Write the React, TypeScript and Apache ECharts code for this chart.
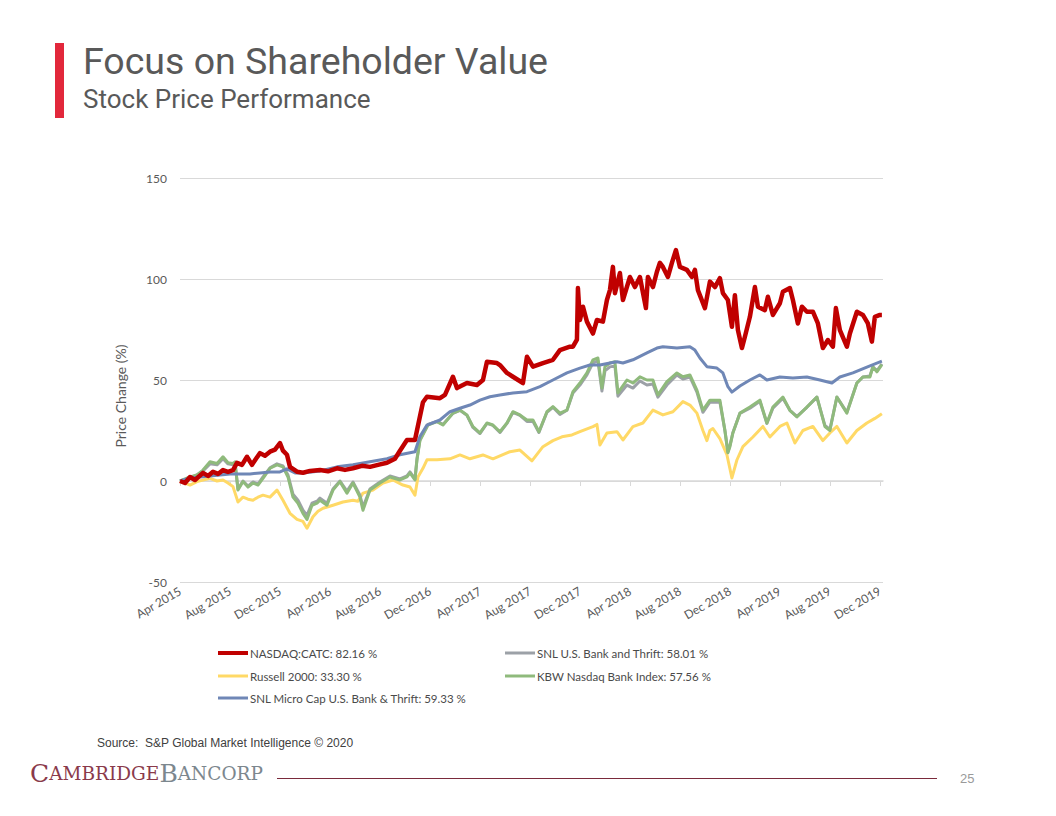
import React, { useEffect, useRef } from "react";
import * as echarts from "echarts";

const TICK_LABELS = [
  "Apr 2015", "Aug 2015", "Dec 2015", "Apr 2016", "Aug 2016", "Dec 2016", "Apr 2017",
  "Aug 2017", "Dec 2017", "Apr 2018", "Aug 2018", "Dec 2018", "Apr 2019", "Aug 2019", "Dec 2019",
];

const SERIES_NAMES = [
  "NASDAQ:CATC: 82.16 %",
  "SNL U.S. Bank and Thrift: 58.01 %",
  "Russell 2000: 33.30 %",
  "KBW Nasdaq Bank Index: 57.56 %",
  "SNL Micro Cap U.S. Bank & Thrift: 59.33 %",
];

// [months since Apr 2015, price change %]
const NASDAQ_CATC: [number, number][] = [
  [0, 0], [0.4, -1], [0.8, 2], [1.2, 0.5], [1.84, 4], [2.24, 2.5], [2.64, 4.6], [3.04, 3.5], [3.44, 5.4], [3.84, 4.5],
  [4.24, 5.4], [4.56, 9], [4.96, 8], [5.36, 12], [5.76, 8], [6.08, 11], [6.4, 13.8], [6.8, 12.5], [7.2, 14.5], [7.6, 15.5],
  [8, 18.8], [8.24, 15], [8.56, 13], [8.8, 7], [9.36, 4.6], [9.84, 4.1], [10.4, 5], [11.2, 5.4], [11.84, 4.8], [12.56, 6.3],
  [13.2, 5.5], [13.84, 6.3], [14.56, 7.5], [15.2, 7], [15.84, 8], [16.56, 9], [17.2, 11], [17.6, 15], [18.16, 20.3], [18.8, 20.3],
  [18.96, 25], [19.44, 39], [19.76, 41.7], [20.8, 41], [21.2, 42.6], [21.84, 51.6], [22.16, 46], [22.96, 48.5], [23.76, 47.5], [24.24, 50],
  [24.56, 59], [25.36, 58.4], [25.6, 57.4], [26.16, 53.5], [26.64, 51.6], [27.44, 48.5], [27.76, 61.5], [28.24, 56.6], [29.04, 58.4], [29.84, 60],
  [30.4, 64.8], [31.2, 66.5], [31.44, 66.5], [31.76, 70], [31.84, 95.5], [32, 79.7], [32.24, 86.3], [32.56, 78.9], [33.04, 73], [33.36, 79.7],
  [33.84, 78.9], [34.16, 89.6], [34.4, 94.5], [34.64, 106], [34.8, 93], [35.2, 103], [35.44, 89.6], [36, 101], [36.4, 96], [36.8, 101],
  [37.28, 85.6], [37.44, 101], [37.84, 96], [38.16, 103.6], [38.4, 108], [38.64, 106], [39.04, 101], [39.36, 108], [39.68, 114.3], [40, 106],
  [40.56, 104.5], [40.96, 101], [41.2, 104.5], [41.44, 94.5], [42, 85.6], [42.4, 98.7], [42.8, 96], [43.2, 100.4], [43.44, 93], [43.84, 89.6],
  [44.16, 76.4], [44.4, 92], [44.64, 74.7], [44.96, 65.8], [45.2, 71.4], [45.6, 81.3], [46, 96], [46.24, 86.3], [46.8, 84.6], [47.04, 91.2],
  [47.44, 82.2], [48, 88], [48.24, 93.7], [48.8, 95.5], [49.04, 89.6], [49.44, 78], [49.76, 86.3], [50.16, 83.8], [50.64, 83.8], [51.04, 78],
  [51.44, 65.8], [51.84, 69.8], [52.24, 66.5], [52.48, 85.6], [52.8, 74.7], [53.36, 66.5], [53.6, 73], [54.16, 83.8], [54.64, 82.2], [55.04, 78],
  [55.36, 69], [55.6, 81.3], [56, 82.2], [56.16, 82.2],
];

const SNL_BANK_THRIFT: [number, number][] = [
  [0, 0], [0.8, 1.5], [1.36, 3], [1.84, 5], [2.4, 8.5], [2.96, 8], [3.44, 11], [3.84, 8.5], [4.24, 8], [4.4, 9],
  [4.64, -4], [5.04, 0], [5.44, -2.5], [5.84, -0.5], [6.24, -1.5], [6.64, 2], [7.2, 6.5], [7.76, 8.5], [8.24, 7.5], [8.64, 3],
  [9.04, -6.5], [9.44, -9.5], [9.84, -14.5], [10.16, -17], [10.56, -11], [10.96, -10], [11.2, -8.5], [11.76, -11], [12.24, -4], [12.8, 0],
  [13.36, -5], [13.84, -0.5], [14.4, -7], [14.64, -13], [15.2, -4], [16, -0.5], [16.8, 2.5], [17.6, 1], [18.16, 2.5], [18.4, 4.5],
  [18.8, 1], [18.96, 11], [19.2, 20.5], [19.84, 28], [20.56, 29.5], [21.04, 28], [21.84, 33.5], [22.4, 35], [22.96, 32.5], [23.44, 26.5],
  [24, 23.5], [24.56, 28.5], [25.04, 27.5], [25.6, 24], [26.16, 28.5], [26.64, 34], [27.2, 32.5], [27.76, 29.5], [28.24, 29.5], [28.72, 24],
  [29.36, 34], [29.84, 36.5], [30.4, 33], [30.96, 35], [31.44, 43.5], [32, 47.5], [32.56, 52.5], [33.04, 58.5], [33.44, 59.5], [33.76, 44.5],
  [34, 54.5], [34.4, 56.5], [34.8, 57], [35.04, 42], [35.76, 47.5], [36.24, 46], [36.8, 49.5], [37.36, 47.5], [37.84, 48], [38.24, 41.5],
  [38.96, 47.5], [39.76, 52.5], [40.24, 50.5], [40.8, 51.5], [41.36, 44], [41.84, 34], [42.4, 39], [43.2, 39], [43.6, 25], [43.84, 14.5],
  [44, 17.5], [44.24, 24], [44.8, 33.5], [45.6, 36], [46.4, 39.5], [46.96, 28.5], [47.44, 36], [48.24, 41], [48.8, 35], [49.36, 32],
  [50.16, 36.5], [50.96, 41.5], [51.6, 27.5], [52, 25.5], [52.56, 41.5], [53.36, 34], [54.16, 48.5], [54.64, 51.5], [55.2, 52], [55.44, 56.5],
  [55.76, 54.5], [56.16, 58.0],
];

const RUSSELL_2000: [number, number][] = [
  [0, 0], [0.8, -2], [1.36, -0.3], [1.84, 0.5], [2.4, 1.3], [2.96, 0], [3.44, 0.5], [3.84, -1], [4.24, -2.8], [4.64, -10.4],
  [5.04, -8], [5.44, -9], [5.84, -9.5], [6.24, -8], [6.64, -7], [7.2, -8], [7.76, -4.5], [8.24, -9.5], [8.8, -16], [9.36, -19],
  [9.84, -20], [10.16, -23.4], [10.64, -17.7], [11.04, -15], [11.44, -13.5], [12.24, -12], [13.04, -10.4], [13.84, -9.5], [14.24, -10], [14.64, -6],
  [15.44, -4.5], [16.24, -1], [17.04, 0.5], [17.84, -2], [18.4, -3], [18.8, -7], [19.04, 2], [19.44, 6.3], [19.76, 10.5], [20.56, 10.5],
  [21.6, 11], [22.4, 12.9], [23.2, 11], [24.24, 12.9], [25.04, 11], [26.4, 14.5], [27.2, 15.3], [28.16, 10], [29.04, 17], [29.84, 20],
  [30.56, 21.9], [31.36, 22.8], [32, 24.4], [33.04, 26.9], [33.36, 28], [33.6, 17.8], [34.16, 23.8], [34.96, 24.4], [35.44, 20.3], [36.24, 26.9],
  [37.04, 28.7], [37.84, 35.1], [38.64, 32.7], [39.44, 34.3], [40.24, 39.3], [40.8, 37.6], [41.36, 33.6], [41.84, 25], [42.16, 20], [42.4, 25],
  [42.64, 26], [43.2, 21], [43.76, 13], [44.16, 1.5], [44.56, 10.4], [45.04, 17], [45.84, 21.8], [46.64, 27], [47.2, 21.8], [48, 27],
  [48.56, 28.7], [49.2, 18.8], [49.84, 25], [50.64, 27], [51.44, 20], [52, 23.8], [52.56, 27], [53.36, 18.8], [54.16, 25], [54.96, 28.7],
  [55.6, 31], [56.16, 33.3],
];

const KBW_BANK: [number, number][] = [
  [0, 0], [0.8, 2], [1.36, 3], [1.84, 5.4], [2.4, 9.5], [2.96, 8.7], [3.44, 12], [3.84, 9], [4.24, 8.7], [4.4, 9.5],
  [4.64, -4.5], [5.04, -0.3], [5.44, -3], [5.84, -1], [6.24, -2], [6.64, 1.3], [7.2, 6.3], [7.76, 8], [8.24, 7], [8.64, 2],
  [9.04, -8], [9.44, -11], [9.84, -16], [10.16, -19], [10.56, -12], [10.96, -11], [11.2, -9.5], [11.76, -12], [12.24, -4.5], [12.8, -0.3],
  [13.36, -6], [13.84, -1], [14.4, -8], [14.64, -14.5], [15.2, -4.5], [16, -1], [16.8, 2], [17.6, 0.5], [18.16, 2], [18.4, 4],
  [18.8, 0.5], [18.96, 10.4], [19.2, 20], [19.84, 27.7], [20.56, 29.4], [21.04, 27.7], [21.84, 33.6], [22.4, 35.1], [22.96, 32.7], [23.44, 26.9],
  [24, 23.8], [24.56, 28.7], [25.04, 27.7], [25.6, 24.4], [26.16, 28.7], [26.64, 34.3], [27.2, 32.7], [27.76, 30.2], [28.24, 30.2], [28.72, 24.4],
  [29.36, 34.3], [29.84, 36.8], [30.4, 33.6], [30.96, 35.1], [31.44, 44.2], [32, 48.5], [32.56, 53.5], [33.04, 60], [33.44, 60.9], [33.76, 46],
  [34, 56.6], [34.4, 58.4], [34.8, 59], [35.04, 43.6], [35.76, 50], [36.24, 48.5], [36.8, 51.6], [37.36, 50], [37.84, 50], [38.24, 42.6],
  [38.96, 49.2], [39.76, 53.5], [40.24, 51.6], [40.8, 52.5], [41.36, 45], [41.84, 35.1], [42.4, 40], [43.2, 40], [43.6, 25], [43.84, 14],
  [44, 17], [44.24, 23.8], [44.8, 33.6], [45.6, 36.6], [46.4, 40], [46.96, 28.7], [47.44, 36.6], [48.24, 41.6], [48.8, 35], [49.36, 31.7],
  [50.16, 36.6], [50.96, 41.6], [51.6, 27], [52, 25], [52.56, 41.6], [53.36, 33.6], [54.16, 48.5], [54.64, 51.5], [55.2, 51.5], [55.44, 56.4],
  [55.76, 54], [56.16, 57.6],
];

const SNL_MICRO_CAP: [number, number][] = [
  [0, 0], [0.8, 1.5], [1.6, 2], [2.4, 2.5], [3.2, 3], [4, 3.5], [4.8, 3.5], [5.6, 3.5], [6.4, 4], [7.2, 4.5],
  [8, 4.5], [8.56, 6], [9.2, 4], [9.84, 4], [11.2, 5], [12.56, 7], [13.84, 8], [15.2, 9.5], [16.56, 11], [17.6, 13],
  [18.8, 14.5], [19.2, 22], [19.76, 27.7], [20.8, 30.2], [21.6, 34.3], [22.4, 36], [23.2, 37.6], [24, 40], [24.8, 41.7], [25.6, 42.6],
  [26.64, 43.6], [27.76, 44.2], [28.8, 46.7], [29.84, 50], [30.96, 53.5], [32, 55.9], [32.8, 57.4], [33.6, 57.4], [34.4, 58.4], [34.96, 59],
  [35.44, 58.4], [36.24, 60], [37.36, 63.4], [38.16, 65.8], [38.64, 66.5], [39.76, 65.8], [40.8, 66.5], [41.2, 64.8], [41.6, 60.9], [42.16, 56.6],
  [42.96, 55.9], [43.44, 53.5], [43.84, 46.7], [44.16, 44], [44.8, 47], [45.6, 50], [46.4, 52.5], [46.96, 50], [48, 51.5], [49.04, 51],
  [50.16, 51.5], [51.2, 50], [52.16, 48.5], [52.8, 51.5], [53.84, 53.5], [54.96, 56.4], [56.16, 59.3],
];

const SERIES_DATA = [NASDAQ_CATC, SNL_BANK_THRIFT, RUSSELL_2000, KBW_BANK, SNL_MICRO_CAP];
const SERIES_COLORS = ["#c00000", "#9ca1a7", "#ffd966", "#8fba7c", "#6f87b6"];
const SERIES_WIDTHS = [4.5, 3, 3, 3, 3];
const DRAW_ORDER = [2, 1, 3, 4, 0];

const Y_TICKS = [-50, 0, 50, 100, 150];

export default function App() {
  const ref = useRef<HTMLDivElement>(null);

  useEffect(() => {
    if (!ref.current) return;
    const chart = echarts.init(ref.current, null, { renderer: "svg" });
    const labelFont = "Lato, 'Open Sans', sans-serif";
    const serif = "'DejaVu Serif', 'Liberation Serif', serif";

    const legendPos = [
      { left: 213, top: 642 },
      { left: 500, top: 642 },
      { left: 213, top: 665 },
      { left: 500, top: 665 },
      { left: 213, top: 687 },
    ];

    chart.setOption({
      animation: false,
      backgroundColor: "#ffffff",
      grid: { left: 180, right: 173, top: 178, bottom: 234, containLabel: false },
      xAxis: {
        type: "value",
        min: 0,
        max: 56.25,
        interval: 4,
        axisLine: { show: true, lineStyle: { color: "#d9d9d9", width: 1.5 } },
        axisTick: { show: true, length: 5, lineStyle: { color: "#d9d9d9" } },
        splitLine: { show: false },
        axisLabel: {
          rotate: 30,
          margin: 8,
          color: "#595959",
          fontSize: 12,
          fontFamily: labelFont,
          showMaxLabel: false,
          formatter: (v: number) => {
            const i = Math.round(v / 4);
            return Math.abs(v - i * 4) < 1e-6 && TICK_LABELS[i] ? TICK_LABELS[i] : "";
          },
        },
      },
      yAxis: {
        type: "value",
        min: Y_TICKS[0],
        max: Y_TICKS[Y_TICKS.length - 1],
        interval: 50,
        axisLine: { show: false },
        axisTick: { show: false },
        splitLine: { show: true, lineStyle: { color: "#d9d9d9", width: 1.2 } },
        axisLabel: { color: "#595959", fontSize: 12, margin: 13, fontFamily: labelFont },
      },
      legend: SERIES_NAMES.map((name, i) => ({
        data: [name],
        left: legendPos[i].left,
        top: legendPos[i].top,
        icon: "rect",
        itemWidth: 30,
        itemHeight: i === 0 ? 4 : 3,
        selectedMode: false,
        textStyle: { color: "#4a4a4a", fontSize: 11.5, fontFamily: labelFont, padding: [0, 0, 0, -3] },
      })),
      series: DRAW_ORDER.map((i) => ({
        name: SERIES_NAMES[i],
        type: "line",
        data: SERIES_DATA[i],
        symbol: "none",
        showSymbol: false,
        smooth: false,
        color: SERIES_COLORS[i],
        lineStyle: { color: SERIES_COLORS[i], width: SERIES_WIDTHS[i], join: "round" },
        emphasis: { disabled: true },
      })),
      graphic: [
        { type: "rect", left: 55, top: 43, shape: { width: 9, height: 75 }, style: { fill: "#e2283b" } },
        {
          type: "text",
          left: 83,
          top: 42,
          style: { text: "Focus on Shareholder Value", fill: "#595959", fontSize: 37.5, fontFamily: "Roboto, 'Noto Sans', sans-serif" },
        },
        {
          type: "text",
          left: 83,
          top: 86,
          style: { text: "Stock Price Performance", fill: "#595959", fontSize: 26, fontFamily: "Roboto, 'Noto Sans', sans-serif" },
        },
        {
          type: "text",
          x: 120,
          y: 396,
          rotation: Math.PI / 2,
          style: {
            text: "Price Change (%)",
            fill: "#595959",
            fontSize: 14,
            fontFamily: labelFont,
            align: "center",
            verticalAlign: "middle",
          },
        },
        {
          type: "text",
          left: 97,
          top: 737,
          style: {
            text: "Source:  S&P Global Market Intelligence © 2020",
            fill: "#404040",
            fontSize: 12,
            fontFamily: "'Liberation Sans', Arial, sans-serif",
          },
        },
        {
          type: "text",
          x: 30,
          y: 786,
          style: {
            text: "{a|C}{b|AMBRIDGE}{c|B}{d|ANCORP}",
            verticalAlign: "bottom",
            rich: {
              a: { fontSize: 25, fill: "#8a3a4b", fontFamily: serif },
              b: { fontSize: 18.5, fill: "#8a3a4b", fontFamily: serif },
              c: { fontSize: 25, fill: "#7c878e", fontFamily: serif },
              d: { fontSize: 18.5, fill: "#7c878e", fontFamily: serif },
            },
          },
        },
        {
          type: "line",
          shape: { x1: 277, y1: 778.5, x2: 937, y2: 778.5 },
          style: { stroke: "#7a2a3b", lineWidth: 1 },
        },
        {
          type: "text",
          x: 960,
          y: 778,
          style: { text: "25", fill: "#9a9a9a", fontSize: 13, fontFamily: "'Liberation Sans', Arial, sans-serif", verticalAlign: "middle" },
        },
      ],
    });

    return () => chart.dispose();
  }, []);

  return (
    <div
      ref={ref}
      style={{ position: "absolute", left: 0, top: 0, width: 1056, height: 816, background: "#ffffff" }}
    />
  );
}
